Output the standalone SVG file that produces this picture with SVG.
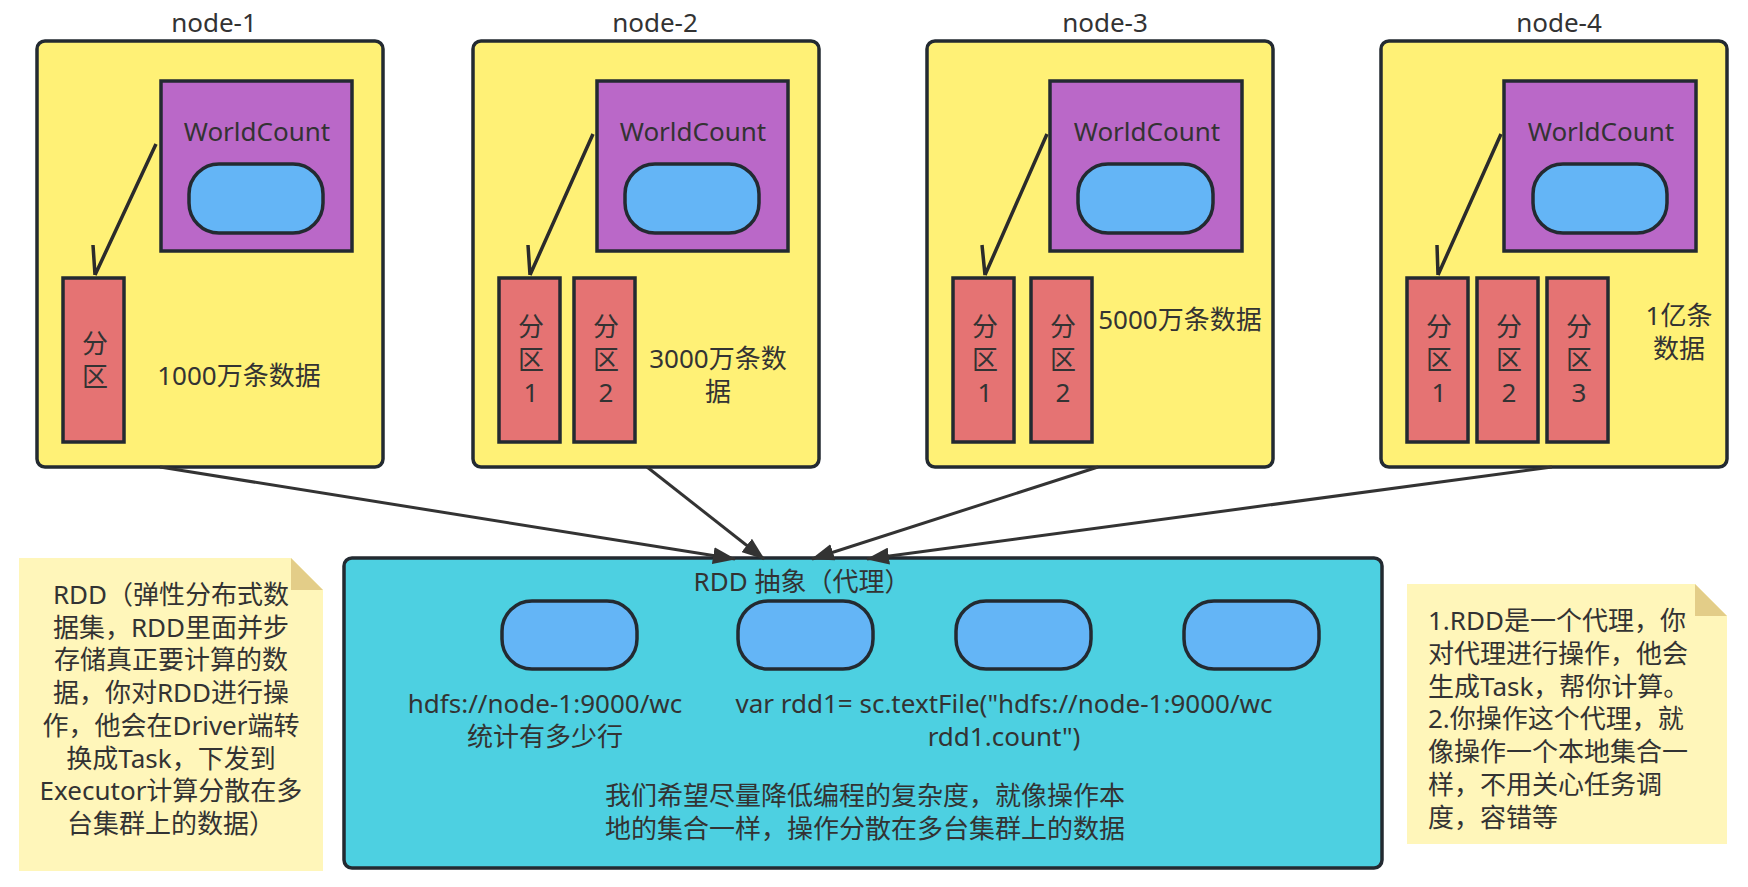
<svg xmlns="http://www.w3.org/2000/svg" width="1748" height="887" viewBox="0 0 1748 887">
<defs>
<style>
text{font-family:"Noto Sans","Noto Sans CJK SC",sans-serif;font-size:26px;fill:#333333}
.mid{text-anchor:middle}
.node{fill:#FFF176;stroke:#232A31;stroke-width:3.5}
.app{fill:#BA68C8;stroke:#232A31;stroke-width:3.5}
.pill{fill:#64B5F6;stroke:#232A31;stroke-width:3.5}
.part{fill:#E57373;stroke:#232A31;stroke-width:3.5}
.rdd{fill:#4DD0E1;stroke:#232A31;stroke-width:3.5}
.note{fill:#FFF6BA}
.fold{fill:#E3CD88}
.inner{fill:none;stroke:#2B2B2B;stroke-width:3.5}
.conn{fill:none;stroke:#333333;stroke-width:3}
</style>
<marker id="head" markerUnits="userSpaceOnUse" viewBox="0 0 23 17" markerWidth="23" markerHeight="17" refX="22" refY="8.5" orient="auto">
<path d="M0,0 L23,8.5 L0,17 z" fill="#333333"/>
</marker>
</defs>

<g id="node-1">
<text class="mid" x="214" y="32">node-1</text>
<rect class="node" x="37" y="41" width="346" height="426" rx="8"/>
<rect class="app" x="161" y="81" width="191" height="170"/>
<text class="mid" x="257" y="141">WorldCount</text>
<rect class="pill" x="189" y="164" width="134" height="69" rx="30"/>
<path class="inner" d="M156,144 L95,275 M93,245 L95,275"/>
<rect class="part" x="63" y="278" width="61" height="164"/>
<text class="mid" x="95" y="353">分<tspan x="95" dy="33">区</tspan></text>
<text class="mid" x="239" y="385">1000万条数据</text>
</g>

<g id="node-2">
<text class="mid" x="655" y="32">node-2</text>
<rect class="node" x="473" y="41" width="346" height="426" rx="8"/>
<rect class="app" x="597" y="81" width="191" height="170"/>
<text class="mid" x="693" y="141">WorldCount</text>
<rect class="pill" x="625" y="164" width="134" height="69" rx="30"/>
<path class="inner" d="M593,134 L530,275 M528,245 L530,275"/>
<rect class="part" x="499" y="278" width="61" height="164"/>
<text class="mid" x="531" y="336">分<tspan x="531" dy="33">区</tspan><tspan x="531" dy="33">1</tspan></text>
<rect class="part" x="574" y="278" width="61" height="164"/>
<text class="mid" x="606" y="336">分<tspan x="606" dy="33">区</tspan><tspan x="606" dy="33">2</tspan></text>
<text class="mid" x="718" y="368">3000万条数<tspan x="718" dy="33">据</tspan></text>
</g>

<g id="node-3">
<text class="mid" x="1105" y="32">node-3</text>
<rect class="node" x="927" y="41" width="346" height="426" rx="8"/>
<rect class="app" x="1050" y="81" width="192" height="170"/>
<text class="mid" x="1147" y="141">WorldCount</text>
<rect class="pill" x="1078" y="164" width="135" height="69" rx="30"/>
<path class="inner" d="M1047,134 L985,275 M982,245 L985,275"/>
<rect class="part" x="953" y="278" width="61" height="164"/>
<text class="mid" x="985" y="336">分<tspan x="985" dy="33">区</tspan><tspan x="985" dy="33">1</tspan></text>
<rect class="part" x="1031" y="278" width="61" height="164"/>
<text class="mid" x="1063" y="336">分<tspan x="1063" dy="33">区</tspan><tspan x="1063" dy="33">2</tspan></text>
<text class="mid" x="1180" y="329">5000万条数据</text>
</g>

<g id="node-4">
<text class="mid" x="1559" y="32">node-4</text>
<rect class="node" x="1381" y="41" width="346" height="426" rx="8"/>
<rect class="app" x="1504" y="81" width="192" height="170"/>
<text class="mid" x="1601" y="141">WorldCount</text>
<rect class="pill" x="1533" y="164" width="134" height="69" rx="30"/>
<path class="inner" d="M1501,134 L1438,275 M1437,245 L1438,275"/>
<rect class="part" x="1407" y="278" width="61" height="164"/>
<text class="mid" x="1439" y="336">分<tspan x="1439" dy="33">区</tspan><tspan x="1439" dy="33">1</tspan></text>
<rect class="part" x="1477" y="278" width="61" height="164"/>
<text class="mid" x="1509" y="336">分<tspan x="1509" dy="33">区</tspan><tspan x="1509" dy="33">2</tspan></text>
<rect class="part" x="1547" y="278" width="61" height="164"/>
<text class="mid" x="1579" y="336">分<tspan x="1579" dy="33">区</tspan><tspan x="1579" dy="33">3</tspan></text>
<text class="mid" x="1679" y="325">1亿条<tspan x="1679" dy="33">数据</tspan></text>
</g>

<g id="rdd">
<rect class="rdd" x="344" y="558" width="1038" height="310" rx="8"/>
<text class="mid" x="802" y="591">RDD 抽象（代理）</text>
<rect class="pill" x="502" y="601" width="135" height="68" rx="30"/>
<rect class="pill" x="738" y="601" width="135" height="68" rx="30"/>
<rect class="pill" x="956" y="601" width="135" height="68" rx="30"/>
<rect class="pill" x="1184" y="601" width="135" height="68" rx="30"/>
<text class="mid" x="545" y="713">hdfs://node-1:9000/wc<tspan x="545" dy="33">统计有多少行</tspan></text>
<text class="mid" x="1004" y="713">var rdd1= sc.textFile("hdfs://node-1:9000/wc<tspan x="1004" dy="33">rdd1.count")</tspan></text>
<text class="mid" x="865" y="805">我们希望尽量降低编程的复杂度，就像操作本<tspan x="865" dy="33">地的集合一样，操作分散在多台集群上的数据</tspan></text>
</g>

<g id="note-left">
<path class="note" d="M19,558 L291,558 L323,590 L323,871 L19,871 z"/>
<path class="fold" d="M291,558 L291,590 L323,590 z"/>
<text class="mid" x="171" y="604">RDD（弹性分布式数<tspan x="171" dy="32.7">据集，RDD里面并步</tspan><tspan x="171" dy="32.7">存储真正要计算的数</tspan><tspan x="171" dy="32.7">据，你对RDD进行操</tspan><tspan x="171" dy="32.7">作，他会在Driver端转</tspan><tspan x="171" dy="32.7">换成Task，下发到</tspan><tspan x="171" dy="32.7">Executor计算分散在多</tspan><tspan x="171" dy="32.7">台集群上的数据）</tspan></text>
</g>

<g id="note-right">
<path class="note" d="M1407,584 L1695,584 L1727,616 L1727,844 L1407,844 z"/>
<path class="fold" d="M1695,584 L1695,616 L1727,616 z"/>
<text x="1428" y="630">1.RDD是一个代理，你<tspan x="1428" dy="32.8">对代理进行操作，他会</tspan><tspan x="1428" dy="32.8">生成Task，帮你计算。</tspan><tspan x="1428" dy="32.8">2.你操作这个代理，就</tspan><tspan x="1428" dy="32.8">像操作一个本地集合一</tspan><tspan x="1428" dy="32.8">样，不用关心任务调</tspan><tspan x="1428" dy="32.8">度，容错等</tspan></text>
</g>

<g id="connectors">
<path class="conn" d="M160,467 L735,559" marker-end="url(#head)"/>
<path class="conn" d="M647,467 L764,559" marker-end="url(#head)"/>
<path class="conn" d="M1098,467 L812,559" marker-end="url(#head)"/>
<path class="conn" d="M1552,467 L867,559" marker-end="url(#head)"/>
</g>
</svg>
